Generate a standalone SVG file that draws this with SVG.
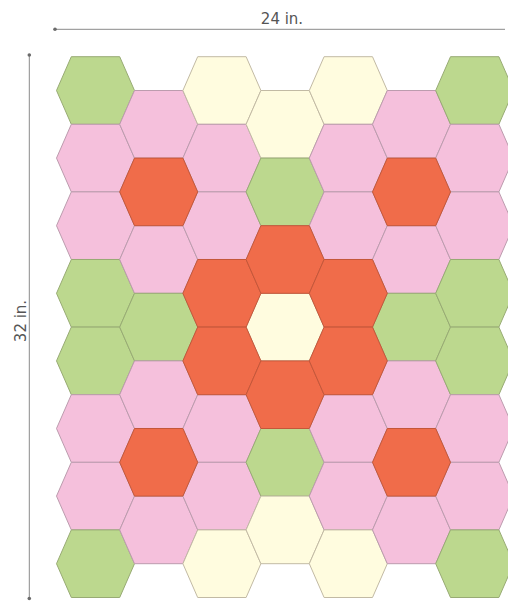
<svg xmlns="http://www.w3.org/2000/svg" xmlns:xlink="http://www.w3.org/1999/xlink" width="508" height="605" viewBox="0 0 508 605">
<style>
.hx{stroke-width:1;stroke-linejoin:round}
.g{fill:#bcd88e;stroke:#98ab74}
.p{fill:#f5c0dc;stroke:#bc9cae}
.o{fill:#f06c4a;stroke:#c4573a}
.c{fill:#fffcdf;stroke:#c2baa4}
.dim{stroke:#8a8a8a;stroke-width:1;fill:none}
.dot{fill:#6a6a6a}
.lbl{font-family:"DejaVu Sans",sans-serif;font-size:15px;fill:#555;text-anchor:middle}
</style>
<defs>
<polygon id="hex" points="-39,0 -24.2,-33.8 24.2,-33.8 39,0 24.2,33.8 -24.2,33.8"/>
</defs>
<g id="dimensions">
<line class="dim" x1="55" y1="29.3" x2="505" y2="29.3"/>
<circle class="dot" cx="55" cy="29.3" r="1.8"/>
<line class="dim" x1="29.3" y1="55" x2="29.3" y2="598.5"/>
<circle class="dot" cx="29.3" cy="55" r="1.8"/>
<circle class="dot" cx="29.3" cy="598.5" r="1.8"/>
<text class="lbl" x="282" y="24.3">24 in.</text>
<text class="lbl" transform="translate(25.5,321) rotate(-90)">32 in.</text>
</g>
<g id="hexes">
<!-- column 0 -->
<g id="h0-0"><use href="#hex" class="hx g" x="95.5" y="90.5"/></g>
<g id="h0-1"><use href="#hex" class="hx p" x="95.5" y="158.1"/></g>
<g id="h0-2"><use href="#hex" class="hx p" x="95.5" y="225.7"/></g>
<g id="h0-3"><use href="#hex" class="hx g" x="95.5" y="293.3"/></g>
<g id="h0-4"><use href="#hex" class="hx g" x="95.5" y="360.9"/></g>
<g id="h0-5"><use href="#hex" class="hx p" x="95.5" y="428.5"/></g>
<g id="h0-6"><use href="#hex" class="hx p" x="95.5" y="496.1"/></g>
<g id="h0-7"><use href="#hex" class="hx g" x="95.5" y="563.7"/></g>
<!-- column 1 -->
<g id="h1-0"><use href="#hex" class="hx p" x="158.7" y="124.3"/></g>
<g id="h1-2"><use href="#hex" class="hx p" x="158.7" y="259.5"/></g>
<g id="h1-3"><use href="#hex" class="hx g" x="158.7" y="327.1"/></g>
<g id="h1-4"><use href="#hex" class="hx p" x="158.7" y="394.7"/></g>
<g id="h1-6"><use href="#hex" class="hx p" x="158.7" y="529.9"/></g>
<!-- column 2 -->
<g id="h2-0"><use href="#hex" class="hx c" x="221.9" y="90.5"/></g>
<g id="h2-1"><use href="#hex" class="hx p" x="221.9" y="158.1"/></g>
<g id="h2-2"><use href="#hex" class="hx p" x="221.9" y="225.7"/></g>
<g id="h2-5"><use href="#hex" class="hx p" x="221.9" y="428.5"/></g>
<g id="h2-6"><use href="#hex" class="hx p" x="221.9" y="496.1"/></g>
<g id="h2-7"><use href="#hex" class="hx c" x="221.9" y="563.7"/></g>
<!-- column 3 -->
<g id="h3-0"><use href="#hex" class="hx c" x="285.1" y="124.3"/></g>
<g id="h3-1"><use href="#hex" class="hx g" x="285.1" y="191.9"/></g>
<g id="h3-3"><use href="#hex" class="hx c" x="285.1" y="327.1"/></g>
<g id="h3-5"><use href="#hex" class="hx g" x="285.1" y="462.3"/></g>
<g id="h3-6"><use href="#hex" class="hx c" x="285.1" y="529.9"/></g>
<!-- column 4 -->
<g id="h4-0"><use href="#hex" class="hx c" x="348.3" y="90.5"/></g>
<g id="h4-1"><use href="#hex" class="hx p" x="348.3" y="158.1"/></g>
<g id="h4-2"><use href="#hex" class="hx p" x="348.3" y="225.7"/></g>
<g id="h4-5"><use href="#hex" class="hx p" x="348.3" y="428.5"/></g>
<g id="h4-6"><use href="#hex" class="hx p" x="348.3" y="496.1"/></g>
<g id="h4-7"><use href="#hex" class="hx c" x="348.3" y="563.7"/></g>
<!-- column 5 -->
<g id="h5-0"><use href="#hex" class="hx p" x="411.5" y="124.3"/></g>
<g id="h5-2"><use href="#hex" class="hx p" x="411.5" y="259.5"/></g>
<g id="h5-3"><use href="#hex" class="hx g" x="411.5" y="327.1"/></g>
<g id="h5-4"><use href="#hex" class="hx p" x="411.5" y="394.7"/></g>
<g id="h5-6"><use href="#hex" class="hx p" x="411.5" y="529.9"/></g>
<!-- column 6 -->
<g id="h6-0"><use href="#hex" class="hx g" x="474.7" y="90.5"/></g>
<g id="h6-1"><use href="#hex" class="hx p" x="474.7" y="158.1"/></g>
<g id="h6-2"><use href="#hex" class="hx p" x="474.7" y="225.7"/></g>
<g id="h6-3"><use href="#hex" class="hx g" x="474.7" y="293.3"/></g>
<g id="h6-4"><use href="#hex" class="hx g" x="474.7" y="360.9"/></g>
<g id="h6-5"><use href="#hex" class="hx p" x="474.7" y="428.5"/></g>
<g id="h6-6"><use href="#hex" class="hx p" x="474.7" y="496.1"/></g>
<g id="h6-7"><use href="#hex" class="hx g" x="474.7" y="563.7"/></g>
<!-- orange hexes -->
<g id="h1-1"><use href="#hex" class="hx o" x="158.7" y="191.9"/></g>
<g id="h1-5"><use href="#hex" class="hx o" x="158.7" y="462.3"/></g>
<g id="h2-3"><use href="#hex" class="hx o" x="221.9" y="293.3"/></g>
<g id="h2-4"><use href="#hex" class="hx o" x="221.9" y="360.9"/></g>
<g id="h3-2"><use href="#hex" class="hx o" x="285.1" y="259.5"/></g>
<g id="h3-4"><use href="#hex" class="hx o" x="285.1" y="394.7"/></g>
<g id="h4-3"><use href="#hex" class="hx o" x="348.3" y="293.3"/></g>
<g id="h4-4"><use href="#hex" class="hx o" x="348.3" y="360.9"/></g>
<g id="h5-1"><use href="#hex" class="hx o" x="411.5" y="191.9"/></g>
<g id="h5-5"><use href="#hex" class="hx o" x="411.5" y="462.3"/></g>
</g>
</svg>
